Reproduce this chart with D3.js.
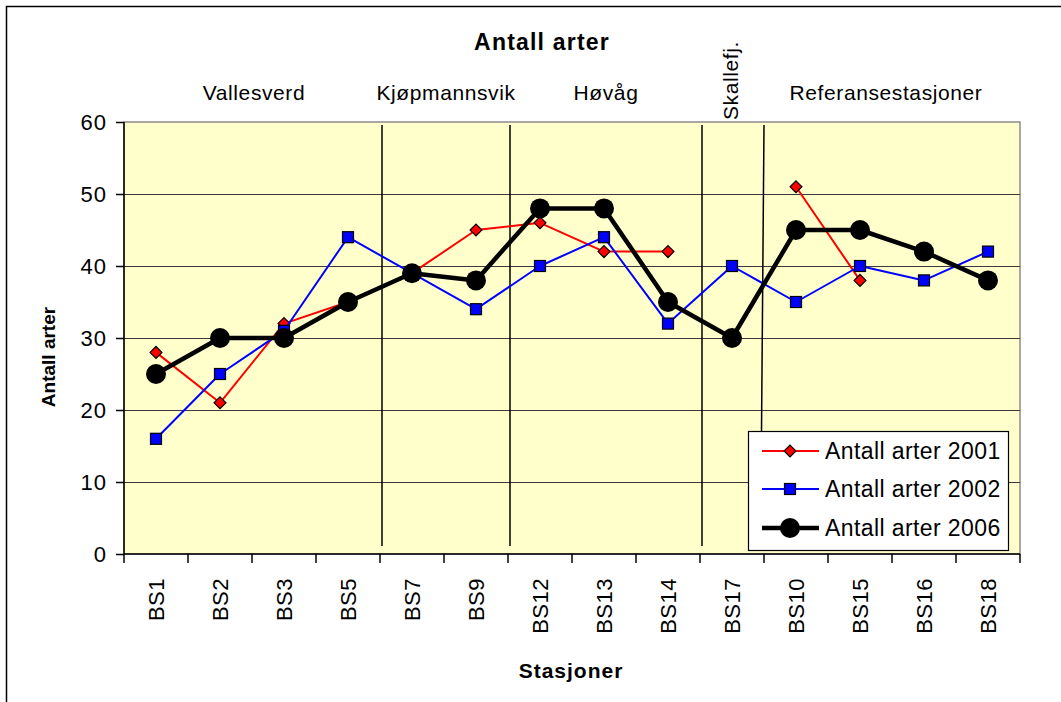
<!DOCTYPE html>
<html>
<head>
<meta charset="utf-8">
<script src="https://cdn.jsdelivr.net/npm/d3@7"></script>
<style>
  body { margin: 0; background: #fff; }
  svg text { font-family: "Liberation Sans", Arial, sans-serif; fill: #000; }
</style>
</head>
<body>
<div id="chart"></div>
<script>
// stations along the x axis
var stations = ["BS1", "BS2", "BS3", "BS5", "BS7", "BS9", "BS12", "BS13", "BS14", "BS17", "BS10", "BS15", "BS16", "BS18"];
// species counts per survey year (null = not sampled)
var arter2001 = [28, 21, 32, 35, 39, 45, 46, 42, 42, null, 51, 38, null, null];
var arter2002 = [16, 25, 31, 44, 39, 34, 40, 44, 32, 40, 35, 40, 38, 42];
var arter2006 = [25, 30, 30, 35, 39, 38, 48, 48, 35, 30, 45, 45, 42, 38];
var yTicks = [0, 10, 20, 30, 40, 50, 60];
// area groups shown above the plot
var areaNames = ["Vallesverd", "Kjøpmannsvik", "Høvåg", "Skallefj.", "Referansestasjoner"];
var areaFirst = ["BS1", "BS7", "BS12", "BS17", "BS10"];
var areaLast = ["BS5", "BS9", "BS14", "BS17", "BS18"];

var width = 1061, height = 702;
var plot = { left: 124, right: 1020, top: 122, bottom: 554 };

var svg = d3.select("#chart").append("svg")
    .attr("width", width)
    .attr("height", height);

// outer chart frame (runs off the right and bottom of the picture)
svg.append("rect")
    .attr("x", 6.5).attr("y", 6.5)
    .attr("width", 1100).attr("height", 740)
    .attr("fill", "#fff")
    .attr("stroke", "#000")
    .attr("stroke-width", 1.5);

var x = d3.scaleBand().domain(stations).range([plot.left, plot.right]).padding(0);
var y = d3.scaleLinear().domain([0, 60]).range([plot.bottom, plot.top]);
var cx = function(s) { return x(s) + x.bandwidth() / 2; };

// plot background
svg.append("rect")
    .attr("x", plot.left).attr("y", plot.top)
    .attr("width", plot.right - plot.left).attr("height", plot.bottom - plot.top)
    .attr("fill", "#ffffcc")
    .attr("stroke", "#8c8c8c")
    .attr("stroke-width", 1.5);

// horizontal gridlines
svg.append("g").selectAll("line")
    .data(yTicks.filter(function(d) { return d > 0 && d < 60; }))
    .join("line")
    .attr("x1", plot.left).attr("x2", plot.right)
    .attr("y1", function(d) { return Math.round(y(d)) + 0.5; })
    .attr("y2", function(d) { return Math.round(y(d)) + 0.5; })
    .attr("stroke", "#3a3a3a")
    .attr("stroke-width", 1);

// area dividers
var dividers = areaLast.slice(0, 4);
svg.append("g").selectAll("line")
    .data(dividers)
    .join("line")
    .attr("x1", function(d, i) { return x(d) + x.bandwidth() + (i == 3 ? 0 : 2); })
    .attr("x2", function(d, i) { return x(d) + x.bandwidth() + (i == 3 ? -2.5 : 2); })
    .attr("y1", plot.top + 3)
    .attr("y2", function(d, i) { return i == 3 ? 432 : plot.bottom - 8; })
    .attr("stroke", "#000")
    .attr("stroke-width", 1.5);

// y axis
var yAxis = d3.axisLeft(y).tickValues(yTicks).tickSize(8).tickPadding(9);
var gy = svg.append("g")
    .attr("transform", "translate(" + plot.left + ",0)")
    .call(yAxis);
gy.select(".domain").attr("stroke", "#000").attr("stroke-width", 1.5).attr("d", "M0," + plot.top + "V" + plot.bottom);
gy.selectAll(".tick line").attr("stroke", "#000").attr("stroke-width", 1.5);
gy.selectAll(".tick text")
    .style("font-size", "22px")
    .style("letter-spacing", "1px")
    .attr("dy", "0.36em");

// x axis: ticks sit on the band boundaries
var gx = svg.append("g").attr("transform", "translate(0," + plot.bottom + ")");
gx.append("line")
    .attr("x1", plot.left).attr("x2", plot.right)
    .attr("stroke", "#000").attr("stroke-width", 1.5);
gx.selectAll("line.tick")
    .data(stations.concat(["end"]))
    .join("line")
    .attr("class", "tick")
    .attr("x1", function(d, i) { return plot.left + i * x.bandwidth(); })
    .attr("x2", function(d, i) { return plot.left + i * x.bandwidth(); })
    .attr("y1", 0).attr("y2", 9)
    .attr("stroke", "#000").attr("stroke-width", 1.5);
gx.selectAll("text")
    .data(stations)
    .join("text")
    .attr("transform", function(d) { return "translate(" + cx(d) + ",24) rotate(-90)"; })
    .attr("text-anchor", "end")
    .attr("dy", "0.36em")
    .style("font-size", "22px")
    .style("letter-spacing", "0.5px")
    .text(function(d) { return d; });

// titles
svg.append("text")
    .attr("x", 542).attr("y", 50)
    .attr("text-anchor", "middle")
    .style("font-size", "23px").style("font-weight", "bold").style("letter-spacing", "1.2px")
    .text("Antall arter");

svg.append("text")
    .attr("x", 571).attr("y", 678)
    .attr("text-anchor", "middle")
    .style("font-size", "21px").style("font-weight", "bold").style("letter-spacing", "1px")
    .text("Stasjoner");

svg.append("text")
    .attr("transform", "translate(55,357) rotate(-90)")
    .attr("text-anchor", "middle")
    .style("font-size", "19px").style("font-weight", "bold")
    .text("Antall arter");

// area labels
areaNames.forEach(function(name, i) {
    var x0 = x(areaFirst[i]), x1 = x(areaLast[i]) + x.bandwidth();
    var mid = (x0 + x1) / 2;
    var t = svg.append("text")
        .style("font-size", "21px")
        .style("letter-spacing", "0.6px")
        .text(name);
    if (name == "Skallefj.") {
        t.attr("transform", "translate(" + (mid - 2) + ",120) rotate(-90)")
            .attr("dy", "0.36em");
    } else {
        t.attr("x", name == "Referansestasjoner" ? mid - 6 : mid + 2)
            .attr("y", 100)
            .attr("text-anchor", "middle");
    }
});

// series
var series = [
    { name: "Antall arter 2001", values: arter2001, color: "#ff0000", width: 2, marker: "diamond" },
    { name: "Antall arter 2002", values: arter2002, color: "#0000ff", width: 2, marker: "square" },
    { name: "Antall arter 2006", values: arter2006, color: "#000000", width: 4.5, marker: "circle" }
];

function drawMarker(g, type, px, py) {
    if (type == "diamond") {
        g.append("path")
            .attr("d", d3.symbol().type(d3.symbolDiamond2).size(90)())
            .attr("transform", "translate(" + px + "," + py + ") rotate(0)")
            .attr("fill", "#ff0000").attr("stroke", "#000").attr("stroke-width", 1.2);
    } else if (type == "square") {
        g.append("rect")
            .attr("x", px - 5.5).attr("y", py - 5.5)
            .attr("width", 11).attr("height", 11)
            .attr("fill", "#0000ff").attr("stroke", "#000").attr("stroke-width", 1.2);
    } else {
        g.append("circle")
            .attr("cx", px).attr("cy", py).attr("r", 10)
            .attr("fill", "#000");
    }
}

var line = d3.line()
    .defined(function(d) { return d.v != null; })
    .x(function(d) { return cx(d.s); })
    .y(function(d) { return y(d.v); });

series.forEach(function(s) {
    var pts = stations.map(function(st, i) { return { s: st, v: s.values[i] }; });
    var g = svg.append("g");
    g.append("path")
        .datum(pts)
        .attr("d", line)
        .attr("fill", "none")
        .attr("stroke", s.color)
        .attr("stroke-width", s.width)
        .attr("stroke-linejoin", "round");
    pts.filter(function(d) { return d.v != null; }).forEach(function(d) {
        drawMarker(g, s.marker, cx(d.s), y(d.v));
    });
});

// legend
var legend = svg.append("g").attr("transform", "translate(748,431)");
legend.append("rect")
    .attr("x", 0.5).attr("y", 0.5)
    .attr("width", 260).attr("height", 119)
    .attr("fill", "#fff").attr("stroke", "#000").attr("stroke-width", 1.2);
series.forEach(function(s, i) {
    var ly = 20 + i * 38 + (i == 2 ? 1 : 0);
    var row = legend.append("g");
    row.append("line")
        .attr("x1", 14).attr("x2", 71)
        .attr("y1", ly).attr("y2", ly)
        .attr("stroke", s.color).attr("stroke-width", s.width);
    drawMarker(row, s.marker, 42, ly);
    row.append("text")
        .attr("x", 77).attr("y", ly)
        .attr("dy", "0.36em")
        .style("font-size", "23px")
        .style("letter-spacing", "0.4px")
        .text(s.name);
});
</script>
</body>
</html>
